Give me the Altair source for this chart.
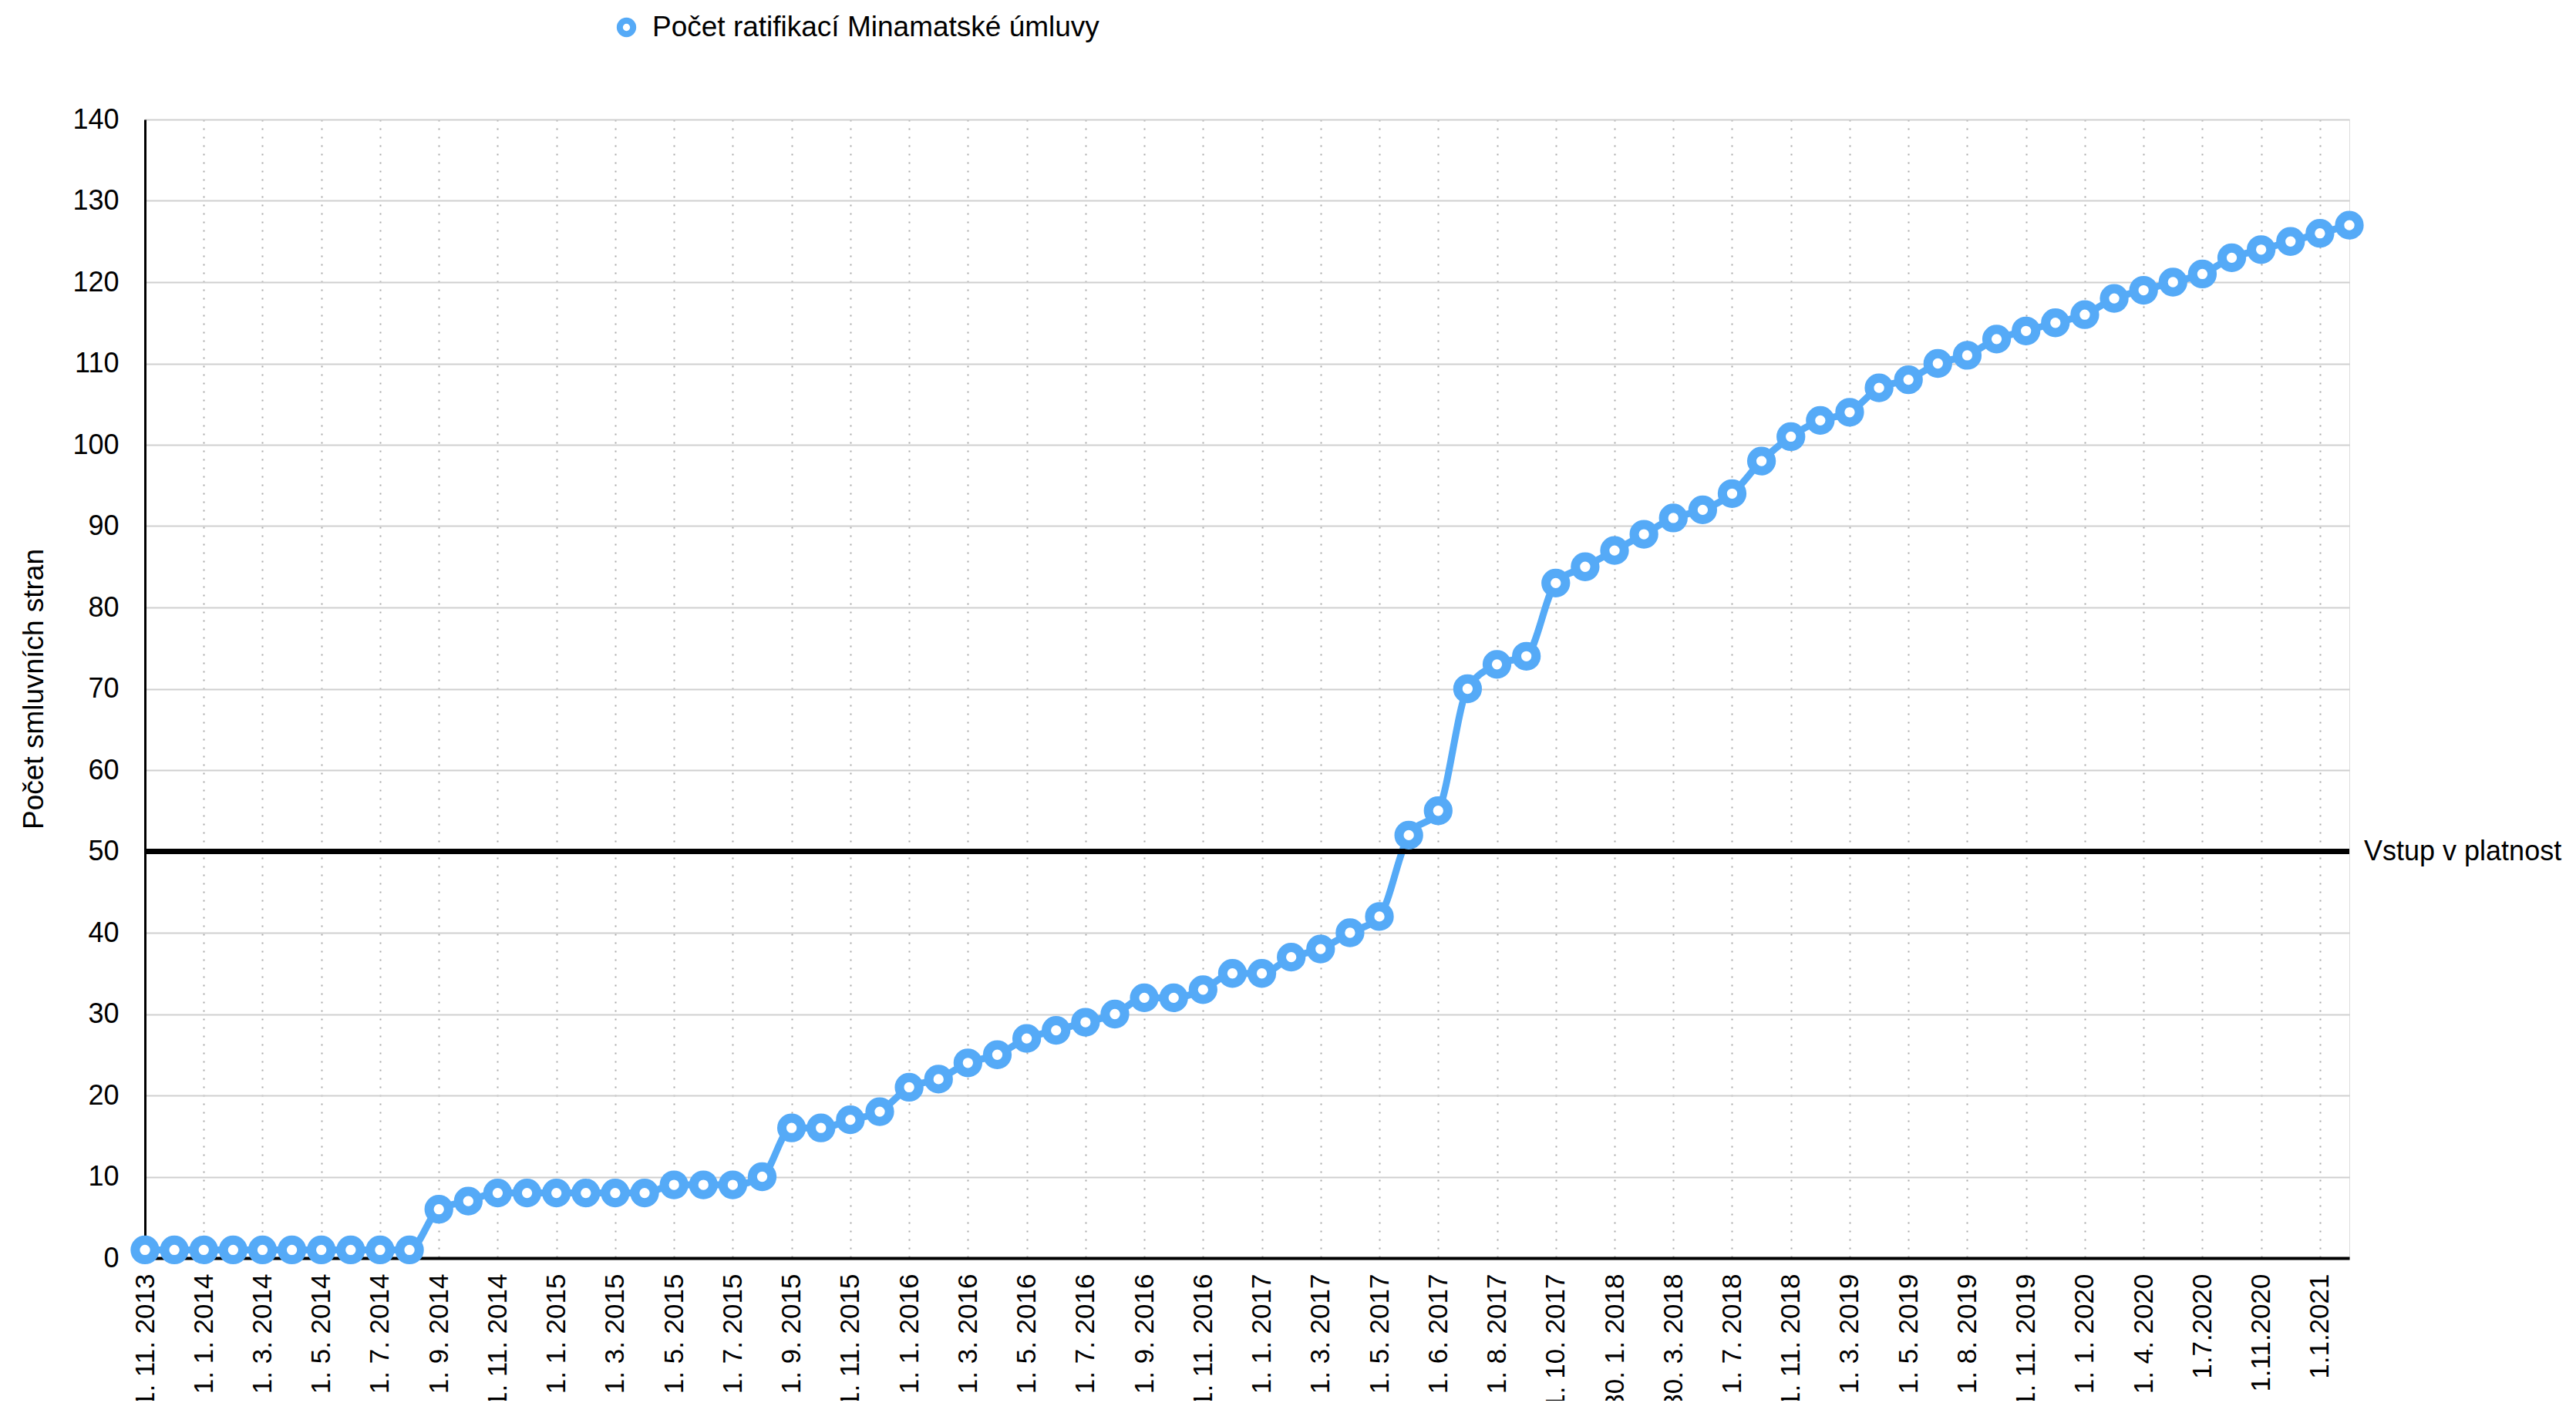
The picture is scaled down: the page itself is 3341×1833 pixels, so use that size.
import json
import altair as alt
import pandas as pd

series_name = "Počet ratifikací Minamatské úmluvy"
values = [1, 1, 1, 1, 1, 1, 1, 1, 1, 1, 6, 7, 8, 8, 8, 8, 8, 8, 9, 9, 9, 10,
          16, 16, 17, 18, 21, 22, 24, 25, 27, 28, 29, 30, 32, 32, 33, 35, 35,
          37, 38, 40, 42, 52, 55, 70, 73, 74, 83, 85, 87, 89, 91, 92, 94, 98,
          101, 103, 104, 107, 108, 110, 111, 113, 114, 115, 116, 118, 119, 120,
          121, 123, 124, 125, 126, 127]
# labels shown on every second point
tick_labels = ["1. 11. 2013", "1. 1. 2014", "1. 3. 2014", "1. 5. 2014", "1. 7. 2014",
               "1. 9. 2014", "1. 11. 2014", "1. 1. 2015", "1. 3. 2015", "1. 5. 2015",
               "1. 7. 2015", "1. 9. 2015", "1. 11. 2015", "1. 1. 2016", "1. 3. 2016",
               "1. 5. 2016", "1. 7. 2016", "1. 9. 2016", "1. 11. 2016", "1. 1. 2017",
               "1. 3. 2017", "1. 5. 2017", "1. 6. 2017", "1. 8. 2017", "1. 10. 2017",
               "30. 1. 2018", "30. 3. 2018", "1. 7. 2018", "1. 11. 2018", "1. 3. 2019",
               "1. 5. 2019", "1. 8. 2019", "1. 11. 2019", "1. 1. 2020", "1. 4. 2020",
               "1.7.2020", "1.11.2020", "1.1.2021"]
threshold_value = 50
threshold_label = "Vstup v platnost"
y_title = "Počet smluvních stran"

BLUE = "#55aaf7"
FONT = "Liberation Sans"

df = pd.DataFrame({"idx": list(range(len(values))), "value": values, "series": series_name})
thr = pd.DataFrame({"y": [threshold_value], "label": [threshold_label], "x": [len(values) - 1]})

label_expr = ("datum.value % 2 == 0 ? " + json.dumps(tick_labels, ensure_ascii=False)
              + "[datum.value / 2] : ''")

x_enc = alt.X("idx:Q",
              scale=alt.Scale(domain=[0, len(values) - 1], nice=False, zero=False),
              axis=alt.Axis(values=list(range(len(values))), labelExpr=label_expr,
                            labelAngle=-90, labelFontSize=35, labelPadding=20,
                            labelOverlap=False, labelBound=False, labelFlush=False,
                            labelLimit=1000,
                            ticks=False, domainColor="black", domainWidth=4,
                            grid=True, gridColor="#a8a8a8", gridDash=[2, 9], gridWidth=2,
                            title=None, labelColor="black", labelFont=FONT))
y_enc = alt.Y("value:Q",
              scale=alt.Scale(domain=[0, 140], nice=False),
              axis=alt.Axis(values=list(range(0, 141, 10)), labelFontSize=36,
                            labelPadding=34, ticks=False, domainColor="black",
                            domainWidth=3, grid=True, gridColor="#d0d0d0", gridWidth=2,
                            title=y_title, titleFontSize=37, titleFontWeight="normal",
                            titlePadding=30, labelColor="black", titleColor="black",
                            labelFont=FONT, titleFont=FONT, titleLimit=2000))

base = alt.Chart(df)
line = base.mark_line(interpolate="monotone", color=BLUE, strokeWidth=9).encode(x=x_enc, y=y_enc)
points = base.mark_point(shape="circle", fill="white", fillOpacity=1, opacity=1,
                         strokeWidth=12, size=640).encode(
    x="idx:Q", y="value:Q",
    stroke=alt.Stroke("series:N", scale=alt.Scale(range=[BLUE]),
                      legend=alt.Legend(title=None, orient="none", legendX=606, legendY=-138,
                                        symbolType="circle", symbolFillColor="white",
                                        symbolStrokeWidth=8, symbolSize=300,
                                        labelFontSize=37, labelFont=FONT, labelColor="black",
                                        labelOffset=15, labelLimit=2000, padding=0)))
rule = alt.Chart(thr).mark_rule(color="black", strokeWidth=7).encode(y="y:Q")
text = alt.Chart(thr).mark_text(align="left", baseline="middle", dx=19, fontSize=36,
                                font=FONT, color="black").encode(x="x:Q", y="y:Q", text="label:N")

chart = alt.layer(line, rule, points, text).properties(
    width=2859, height=1477,
    padding={"left": 180, "top": 147, "right": 284, "bottom": 185},
    autosize=alt.AutoSizeParams(type="none"),
).configure_view(stroke=None).configure(background="white")

chart.save("out.html", embed_options={"renderer": "svg", "actions": False})
